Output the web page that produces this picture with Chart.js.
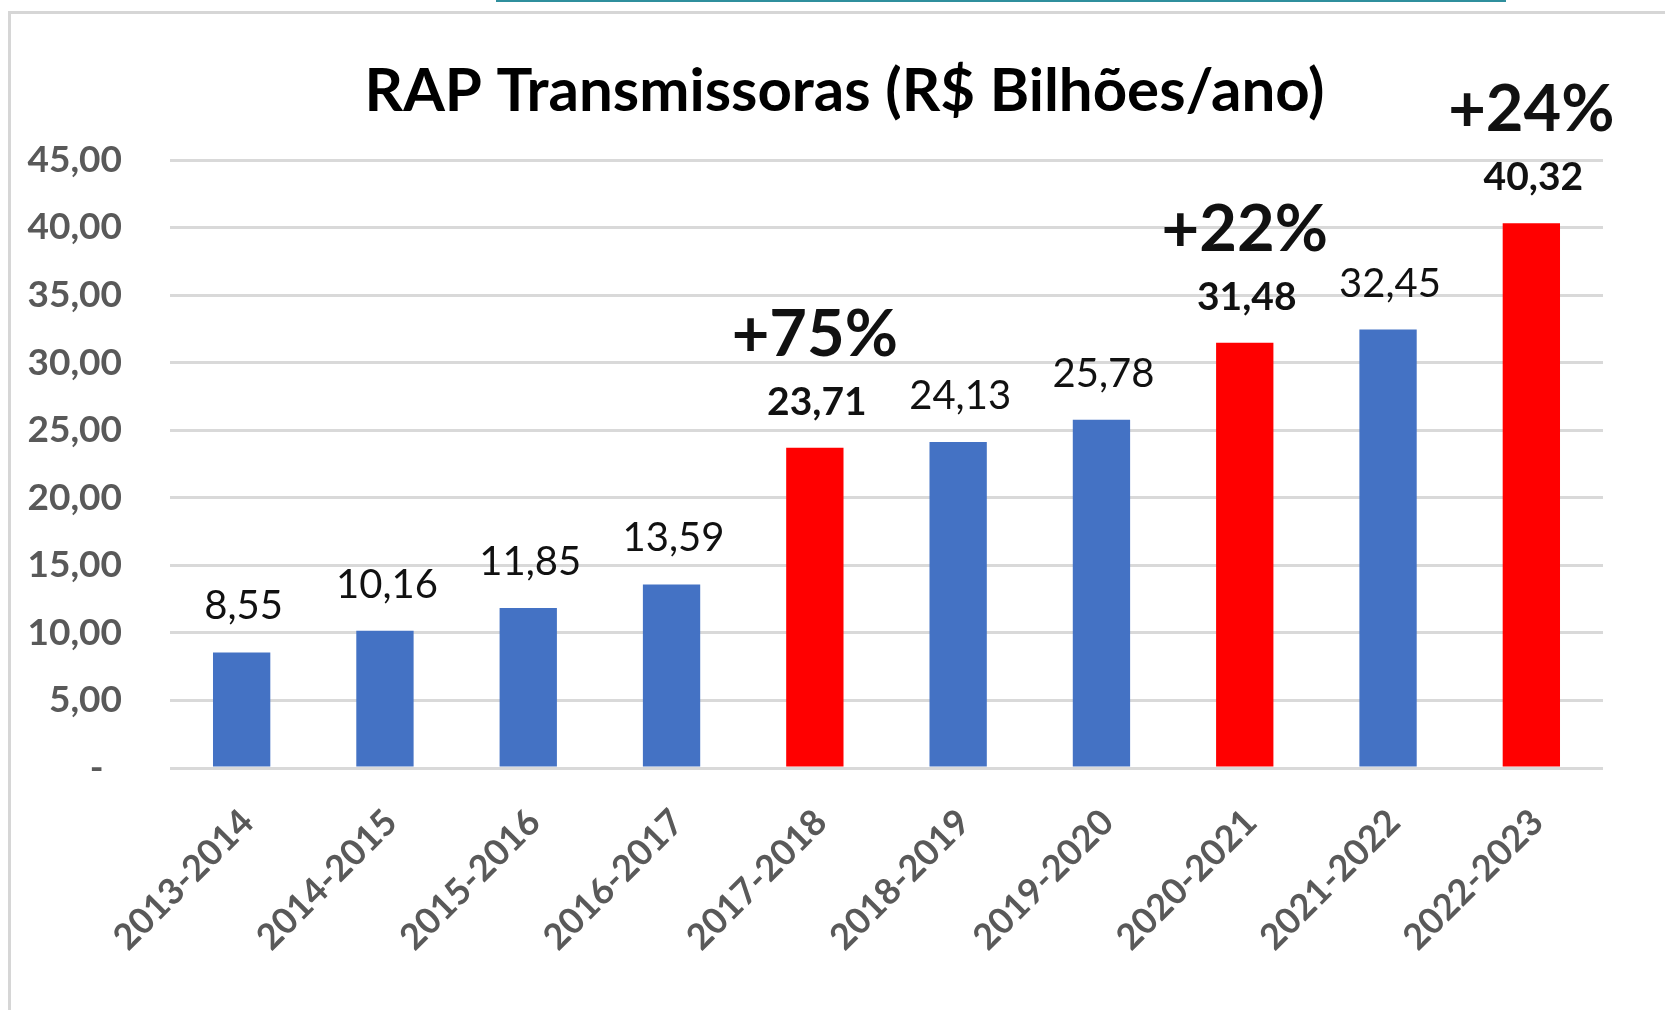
<!DOCTYPE html>
<html>
<head>
<meta charset="utf-8">
<script src="https://cdn.jsdelivr.net/npm/chart.js@4.4.1/dist/chart.umd.min.js"></script>
<style>
    html, body { margin: 0; padding: 0; background: #fff; overflow: hidden; }
    #wrap { position: relative; width: 1665px; height: 1010px; }
    #frame { position: absolute; left: 8px; top: 11px; width: 1700px; height: 1100px;
             border-left: 3px solid #d6d6d6; border-top: 3px solid #d6d6d6; }
    #topline { position: absolute; left: 496px; top: 0; width: 1010px; height: 2px; background: #2f8f9d; }
    canvas { position: absolute; left: 0; top: 0; }
</style>
</head>
<body>
<div id="wrap">
    <div id="topline"></div>
    <div id="frame"></div>
    <canvas id="myChart" width="1665" height="1010"></canvas>
</div>
<script>
const titulo = 'RAP Transmissoras (R$ Bilhões/ano)';
const periodos = ['2013-2014', '2014-2015', '2015-2016', '2016-2017', '2017-2018',
    '2018-2019', '2019-2020', '2020-2021', '2021-2022', '2022-2023'];
const rap = [8.55, 10.16, 11.85, 13.59, 23.71, 24.13, 25.78, 31.48, 32.45, 40.32];
const crescimento = ['', '', '', '', '+75%', '', '', '+22%', '', '+24%'];
const yTicks = [0, 5, 10, 15, 20, 25, 30, 35, 40, 45];

const FONT = 'Lato, "Open Sans", sans-serif';

function fmt(v) {
    return v.toFixed(2).replace('.', ',');
}

// title + value labels + growth labels
const labelsPlugin = {
    id: 'rotulos',
    afterDatasetsDraw(chart) {
        const ctx = chart.ctx;
        const meta = chart.getDatasetMeta(0);
        ctx.save();
        ctx.fillStyle = '#000';
        ctx.textAlign = 'center';
        ctx.textBaseline = 'middle';
        ctx.font = 'bold 60px ' + FONT;
        // Excel centres the title over the whole chart box, a bit right of the canvas centre
        ctx.fillText(titulo, chart.width / 2 + 12, 92);

        ctx.textBaseline = 'alphabetic';
        ctx.fillStyle = '#111';
        meta.data.forEach((bar, i) => {
            const destaque = crescimento[i] !== '';
            ctx.font = destaque ? 'bold 39px ' + FONT : '40px ' + FONT;
            ctx.fillText(fmt(rap[i]), bar.x + 2, bar.y - 33);
            if (destaque) {
                ctx.font = 'bold 65px ' + FONT;
                ctx.fillText(crescimento[i], bar.x, bar.y - 92);
            }
        });
        ctx.restore();
    }
};

const ctx = document.getElementById('myChart');

new Chart(ctx, {
    type: 'bar',
    data: {
        labels: periodos,
        datasets: [{
            label: 'RAP',
            data: rap,
            backgroundColor: crescimento.map(c => c ? '#ff0000' : '#4472c4'),
            borderWidth: 0,
            categoryPercentage: 1,
            barPercentage: 0.4
        }]
    },
    options: {
        responsive: false,
        animation: false,
        layout: {
            padding: { left: 0, right: 62, top: 160, bottom: 0 }
        },
        plugins: {
            legend: { display: false },
            tooltip: { enabled: false },
            title: { display: false }
        },
        scales: {
            y: {
                min: 0,
                max: 45,
                afterFit(scale) { scale.width = 170; },
                afterBuildTicks(scale) {
                    scale.ticks = yTicks.map(v => ({ value: v }));
                },
                border: { display: false },
                grid: {
                    color: '#d9d9d9',
                    lineWidth: 3,
                    drawTicks: false
                },
                ticks: {
                    padding: 48,
                    color: '#595959',
                    font: { family: FONT, size: 37, weight: 'bold' },
                    // accounting format: zero shown as a dash, indented
                    callback: v => v === 0 ? '-\u2002' : fmt(v)
                }
            },
            x: {
                afterFit(scale) { scale.height = 242; },
                border: { display: false },
                grid: { display: false, drawTicks: false },
                ticks: {
                    padding: 33,
                    labelOffset: 6,
                    minRotation: 45,
                    maxRotation: 45,
                    color: '#595959',
                    font: { family: FONT, size: 36, weight: 'bold' }
                }
            }
        }
    },
    plugins: [labelsPlugin]
});
</script>
</body>
</html>
